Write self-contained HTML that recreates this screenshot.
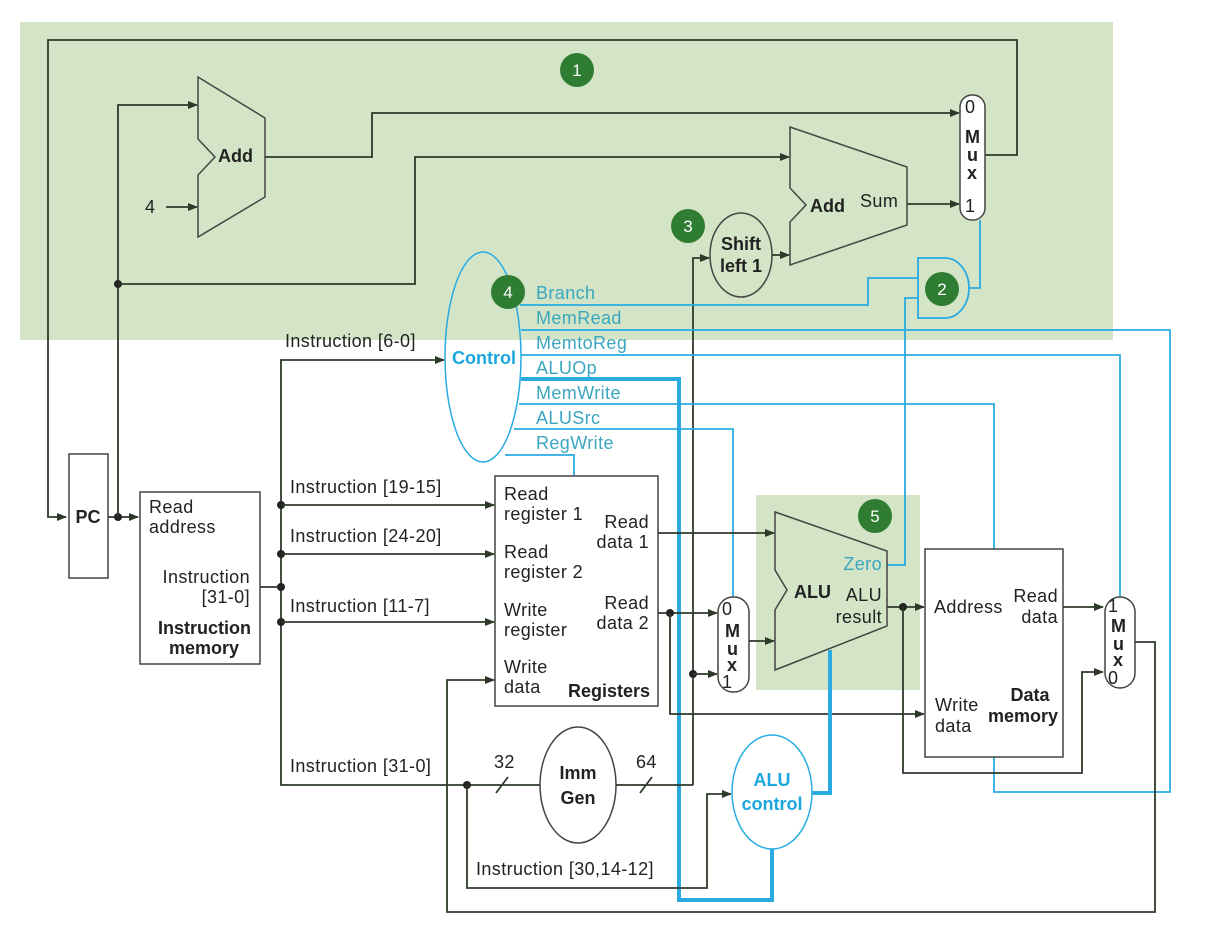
<!DOCTYPE html>
<html><head><meta charset="utf-8"><style>
html,body{margin:0;padding:0;background:#fff;}
svg{display:block;font-family:"Liberation Sans",Arial,sans-serif;}
.k{stroke:#2d3a2a;stroke-width:1.8;fill:none;}
.b{stroke:#29abe2;stroke-width:1.8;fill:none;}
.bt{stroke:#29abe2;stroke-width:4;fill:none;}
.t{font-size:18px;fill:#222;letter-spacing:0.4px;}
.tb{font-size:18px;fill:#222;font-weight:bold;}
.c{font-size:18px;fill:#3aa6bf;letter-spacing:0.4px;}
.n{font-size:17px;fill:#fff;text-anchor:middle;}
</style></head><body>
<svg width="1209" height="939" viewBox="0 0 1209 939" xmlns="http://www.w3.org/2000/svg">
<defs>
<marker id="a" markerWidth="10" markerHeight="8" refX="9" refY="4" orient="auto" markerUnits="userSpaceOnUse"><path d="M0,0 L10,4 L0,8 z" fill="#2d3a2a"/></marker>
</defs>
<rect x="20" y="22" width="1093" height="318" fill="#d3e5c6"/>
<rect x="756" y="495" width="164" height="195" fill="#d3e5c6"/>

<path class="k" d="M985,155 H1017 V40 H48 V517 H66" marker-end="url(#a)"/>
<rect x="69" y="454" width="39" height="124" fill="#fff" stroke="#444" stroke-width="1.5"/>
<text class="tb" x="88" y="523" text-anchor="middle">PC</text>
<path class="k" d="M108,517 H138" marker-end="url(#a)"/>
<circle cx="118" cy="517" r="4" fill="#222"/>
<path class="k" d="M118,517 V105 H197" marker-end="url(#a)"/>
<circle cx="118" cy="284" r="4" fill="#222"/>
<path class="k" d="M118,284 H415 V157 H789" marker-end="url(#a)"/>
<polygon points="198,77 265,118 265,197 198,237 198,175 215,157 198,139" fill="#d3e5c6" stroke="#444" stroke-width="1.5"/>
<text class="tb" x="218" y="162">Add</text>
<text class="t" x="145" y="213">4</text>
<path class="k" d="M166,207 H197" marker-end="url(#a)"/>
<path class="k" d="M265,157 H372 V113 H959" marker-end="url(#a)"/>
<rect x="960" y="95" width="25" height="125" rx="12" fill="#fff" stroke="#444" stroke-width="1.5"/>
<text class="t" x="965" y="113">0</text>
<text class="tb" x="965" y="143">M</text><text class="tb" x="967" y="161">u</text><text class="tb" x="967" y="179">x</text>
<text class="t" x="965" y="212">1</text>
<polygon points="790,127 907,167 907,225 790,265 790,222 806,205 790,188" fill="#d3e5c6" stroke="#444" stroke-width="1.5"/>
<text class="tb" x="810" y="212">Add</text>
<text class="t" x="860" y="207">Sum</text>
<path class="k" d="M907,204 H959" marker-end="url(#a)"/>
<ellipse cx="741" cy="255" rx="31" ry="42" fill="#d3e5c6" stroke="#444" stroke-width="1.5"/>
<text class="tb" x="741" y="250" text-anchor="middle">Shift</text>
<text class="tb" x="741" y="272" text-anchor="middle">left 1</text>
<path class="k" d="M772,255 H789" marker-end="url(#a)"/>
<path class="k" d="M693,785 V258 H709" marker-end="url(#a)"/>
<path d="M918,258 H945 A24,30 0 0 1 945,318 H918 Z" fill="#d3e5c6" stroke="#29abe2" stroke-width="1.8"/>
<path class="b" d="M980,220 V288 H969"/>
<path class="b" d="M520,305 H868 V278 H918"/>
<path class="b" d="M873,565 H905 V298 H918"/>

<ellipse cx="483" cy="357" rx="38" ry="105" fill="none" stroke="#29abe2" stroke-width="1.5"/>
<text x="484" y="364" text-anchor="middle" style="font-size:18px;font-weight:bold;fill:#1ba6e0">Control</text>
<path class="k" d="M281,587 V360 H444" marker-end="url(#a)"/>
<text class="t" x="285" y="347">Instruction [6-0]</text>
<text class="c" x="536" y="299">Branch</text>
<text class="c" x="536" y="324">MemRead</text>
<text class="c" x="536" y="349">MemtoReg</text>
<text class="c" x="536" y="374">ALUOp</text>
<text class="c" x="536" y="399">MemWrite</text>
<text class="c" x="536" y="424">ALUSrc</text>
<text class="c" x="536" y="449">RegWrite</text>
<path class="b" d="M521,330 H1170 V792 H994 V757"/>
<path class="b" d="M521,355 H1120 V598"/>
<path class="bt" d="M521,379 H679 V900 H772 V848"/>
<path class="b" d="M519,404 H994 V549"/>
<path class="b" d="M514,429 H733 V598"/>
<path class="b" d="M505,455 H574 V476"/>

<rect x="140" y="492" width="120" height="172" fill="#fff" stroke="#444" stroke-width="1.5"/>
<text class="t" x="149" y="513">Read</text>
<text class="t" x="149" y="533">address</text>
<text class="t" x="250" y="583" text-anchor="end">Instruction</text>
<text class="t" x="250" y="603" text-anchor="end">[31-0]</text>
<text class="tb" x="251" y="634" text-anchor="end">Instruction</text>
<text class="tb" x="239" y="654" text-anchor="end">memory</text>
<path class="k" d="M260,587 H281 V785 H540"/>
<circle cx="281" cy="505" r="4" fill="#222"/><circle cx="281" cy="554" r="4" fill="#222"/>
<circle cx="281" cy="587" r="4" fill="#222"/><circle cx="281" cy="622" r="4" fill="#222"/>
<path class="k" d="M281,505 H494" marker-end="url(#a)"/>
<path class="k" d="M281,554 H494" marker-end="url(#a)"/>
<path class="k" d="M281,622 H494" marker-end="url(#a)"/>
<text class="t" x="290" y="493">Instruction [19-15]</text>
<text class="t" x="290" y="542">Instruction [24-20]</text>
<text class="t" x="290" y="612">Instruction [11-7]</text>
<text class="t" x="290" y="772">Instruction [31-0]</text>

<rect x="495" y="476" width="163" height="230" fill="#fff" stroke="#444" stroke-width="1.5"/>
<text class="t" x="504" y="500">Read</text><text class="t" x="504" y="520">register 1</text>
<text class="t" x="504" y="558">Read</text><text class="t" x="504" y="578">register 2</text>
<text class="t" x="504" y="616">Write</text><text class="t" x="504" y="636">register</text>
<text class="t" x="504" y="673">Write</text><text class="t" x="504" y="693">data</text>
<text class="t" x="649" y="528" text-anchor="end">Read</text><text class="t" x="649" y="548" text-anchor="end">data 1</text>
<text class="t" x="649" y="609" text-anchor="end">Read</text><text class="t" x="649" y="629" text-anchor="end">data 2</text>
<text class="tb" x="650" y="697" text-anchor="end">Registers</text>
<path class="k" d="M658,533 H774" marker-end="url(#a)"/>
<path class="k" d="M658,613 H717" marker-end="url(#a)"/>
<circle cx="670" cy="613" r="4" fill="#222"/>
<path class="k" d="M670,613 V714 H924" marker-end="url(#a)"/>
<circle cx="693" cy="674" r="4" fill="#222"/>
<path class="k" d="M693,674 H717" marker-end="url(#a)"/>

<rect x="718" y="597" width="31" height="95" rx="15" fill="#fff" stroke="#444" stroke-width="1.5"/>
<text class="t" x="722" y="615">0</text>
<text class="tb" x="725" y="637">M</text><text class="tb" x="727" y="655">u</text><text class="tb" x="727" y="671">x</text>
<text class="t" x="722" y="688">1</text>
<path class="k" d="M749,641 H774" marker-end="url(#a)"/>

<polygon points="775,512 887,551 887,626 775,670 775,610 787,590 775,570" fill="#d3e5c6" stroke="#444" stroke-width="1.5"/>
<text class="tb" x="794" y="598">ALU</text>
<text class="c" x="882" y="570" text-anchor="end">Zero</text>
<text class="t" x="882" y="601" text-anchor="end">ALU</text>
<text class="t" x="882" y="623" text-anchor="end">result</text>
<path class="k" d="M887,607 H924" marker-end="url(#a)"/>
<circle cx="903" cy="607" r="4" fill="#222"/>
<path class="k" d="M903,607 V773 H1082 V672 H1103" marker-end="url(#a)"/>

<rect x="925" y="549" width="138" height="208" fill="#fff" stroke="#444" stroke-width="1.5"/>
<text class="t" x="934" y="613">Address</text>
<text class="t" x="1058" y="602" text-anchor="end">Read</text><text class="t" x="1058" y="623" text-anchor="end">data</text>
<text class="t" x="935" y="711">Write</text><text class="t" x="935" y="732">data</text>
<text class="tb" x="1030" y="701" text-anchor="middle">Data</text>
<text class="tb" x="1023" y="722" text-anchor="middle">memory</text>
<path class="k" d="M1063,607 H1103" marker-end="url(#a)"/>

<rect x="1105" y="597" width="30" height="91" rx="15" fill="#fff" stroke="#444" stroke-width="1.5"/>
<text class="t" x="1108" y="612">1</text>
<text class="tb" x="1111" y="632">M</text><text class="tb" x="1113" y="650">u</text><text class="tb" x="1113" y="666">x</text>
<text class="t" x="1108" y="684">0</text>
<path class="k" d="M1135,642 H1155 V912 H447 V680 H494" marker-end="url(#a)"/>

<ellipse cx="578" cy="785" rx="38" ry="58" fill="#fff" stroke="#444" stroke-width="1.5"/>
<text class="tb" x="578" y="779" text-anchor="middle">Imm</text>
<text class="tb" x="578" y="804" text-anchor="middle">Gen</text>
<path class="k" d="M616,785 H693"/>
<path class="k" d="M496,793 L508,777 M640,793 L652,777"/>
<text class="t" x="494" y="768">32</text>
<text class="t" x="636" y="768">64</text>
<circle cx="467" cy="785" r="4" fill="#222"/>
<path class="k" d="M467,785 V888 H707 V794 H731" marker-end="url(#a)"/>
<text class="t" x="476" y="875">Instruction [30,14-12]</text>

<ellipse cx="772" cy="792" rx="40" ry="57" fill="#fff" stroke="#29abe2" stroke-width="1.5"/>
<text x="772" y="786" text-anchor="middle" style="font-size:18px;font-weight:bold;fill:#1ba6e0">ALU</text>
<text x="772" y="810" text-anchor="middle" style="font-size:18px;font-weight:bold;fill:#1ba6e0">control</text>
<path class="bt" d="M812,793 H830 V650"/>

<circle cx="577" cy="70" r="17" fill="#2e7d32"/><text class="n" x="577" y="76">1</text>
<circle cx="942" cy="289" r="17" fill="#2e7d32"/><text class="n" x="942" y="295">2</text>
<circle cx="688" cy="226" r="17" fill="#2e7d32"/><text class="n" x="688" y="232">3</text>
<circle cx="508" cy="292" r="17" fill="#2e7d32"/><text class="n" x="508" y="298">4</text>
<circle cx="875" cy="516" r="17" fill="#2e7d32"/><text class="n" x="875" y="522">5</text>
</svg>
</body></html>
